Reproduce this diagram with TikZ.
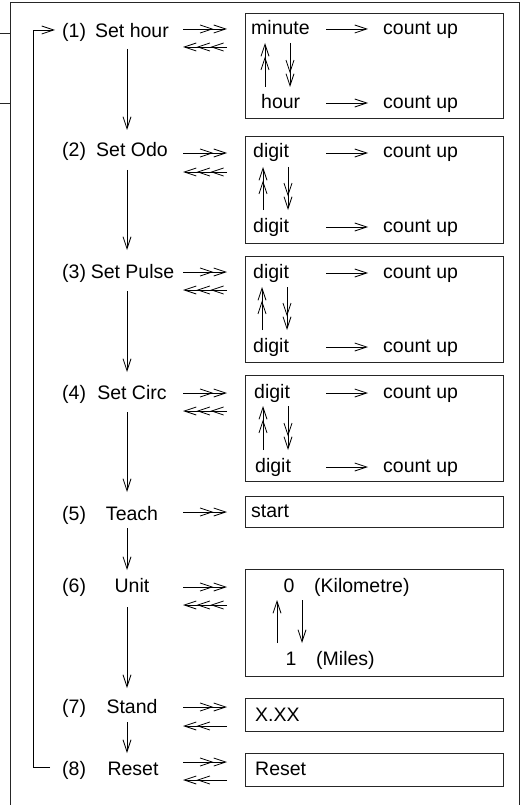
\documentclass[tikz,border=0pt]{standalone}
\usepackage{fontspec}
\setmainfont{Liberation Sans}
\usetikzlibrary{arrows.meta}
\tikzset{
  ln/.style={line width=0.8pt,black},
  one/.style={ln,-{Straight Barb[length=12pt,width=8pt]}},
  two/.style={ln,-{Straight Barb[length=12pt,width=8pt]Straight Barb[length=12pt,width=8pt]}},
  three/.style={ln,-{Straight Barb[length=12pt,width=8pt]Straight Barb[length=12pt,width=8pt]Straight Barb[length=12pt,width=8pt]}},
  txt/.style={font=\fontsize{19.5}{22}\selectfont,inner sep=0pt},
  lab/.style={txt,anchor=base west},
  nm/.style={txt,anchor=base},
  boxst/.style={draw=black!85,line width=0.9pt},
}
\begin{document}
\begin{tikzpicture}[x=1pt,y=-1pt]
\useasboundingbox (0,0) rectangle (520,805);
% outer frame and stubs
\draw[ln,black!85] (10,805) -- (10,2) -- (519,2) -- (519,805);
\coordinate (st1a) at (0,33); \coordinate (st1b) at (10,33);
\coordinate (st2a) at (0,103); \coordinate (st2b) at (10,103);
\draw[ln,black!85] (st1a) -- (st1b);
\draw[ln,black!85] (st2a) -- (st2b);

% right boxes
\draw[boxst] (245,13) rectangle (503,118);
\draw[boxst] (245,136) rectangle (503,243);
\draw[boxst] (245,256) rectangle (503,362);
\draw[boxst] (245,375) rectangle (503,481);
\draw[boxst] (245,496) rectangle (503,527);
\draw[boxst] (245,569) rectangle (503,676);
\draw[boxst] (245,698) rectangle (503,731);
\draw[boxst] (245,753) rectangle (503,786);

% left labels
\node[lab] (l1) at (62,38) {(1)};  \node[nm] (s1) at (132,38) {Set hour};
\node[lab] (l2) at (62,157) {(2)}; \node[nm] (s2) at (132,157) {Set Odo};
\node[lab] (l3) at (62,278) {(3)}; \node[nm] (s3) at (132.5,278) {Set Pulse};
\node[lab] (l4) at (62,399) {(4)}; \node[nm] (s4) at (132,399) {Set Circ};
\node[lab] (l5) at (62,520) {(5)}; \node[nm] (s5) at (132,520) {Teach};
\node[lab] (l6) at (62,592) {(6)}; \node[nm] (s6) at (132,592) {Unit};
\node[lab] (l7) at (62,713) {(7)}; \node[nm] (s7) at (132,713) {Stand};
\node[lab] (l8) at (62,775) {(8)}; \node[nm] (s8) at (133,775) {Reset};

% box texts
\node[lab] (b1a) at (251,35) {minute};  \node[lab] (b1b) at (383,35) {count up};
\node[lab] (b1c) at (261,109) {hour};   \node[lab] (b1d) at (383,109) {count up};
\node[lab] (b2a) at (253,158) {digit};  \node[lab] (b2b) at (383,158) {count up};
\node[lab] (b2c) at (253,232) {digit};  \node[lab] (b2d) at (383,232) {count up};
\node[lab] (b3a) at (253,278) {digit};  \node[lab] (b3b) at (383,278) {count up};
\node[lab] (b3c) at (253,352) {digit};  \node[lab] (b3d) at (383,352) {count up};
\node[lab] (b4a) at (254,398) {digit};  \node[lab] (b4b) at (383,398) {count up};
\node[lab] (b4c) at (255,472) {digit};  \node[lab] (b4d) at (383,472) {count up};
\node[lab] (b5a) at (251,517) {start};
\node[nm]  (b6a) at (289,592) {0};      \node[lab] (b6b) at (314,592) {(Kilometre)};
\node[nm]  (b6c) at (291,665) {1};      \node[lab] (b6d) at (316,665) {(Miles)};
\node[lab] (b7a) at (255,721) {X.XX};
\node[lab] (b8a) at (255,775) {Reset};

% arrows inside boxes (horizontal)
\foreach \n/\y in {1a/29,1b/103,2a/153,2b/227,3a/273,3b/347,4a/393,4b/467}{
  \coordinate (ia\n) at (326,\y); \coordinate (ib\n) at (368,\y);
  \draw[one] (ia\n) -- (ib\n);
}
% vertical arrows in boxes
\foreach \n/\xu/\xd/\ya/\yb in {1/265/290/43/87,2/263/288/167/210,3/262/287/287/330,4/263/288/406/450}{
  \coordinate (ua\n) at (\xu,\yb); \coordinate (ub\n) at (\xu,\ya);
  \coordinate (da\n) at (\xd,\ya); \coordinate (db\n) at (\xd,\yb);
  \draw[two] (ua\n) -- (ub\n);
  \draw[two] (da\n) -- (db\n);
}
\coordinate (u6a) at (277,643); \coordinate (u6b) at (277,600);
\coordinate (d6a) at (302,600); \coordinate (d6b) at (302,643);
\draw[one] (u6a) -- (u6b);
\draw[one] (d6a) -- (d6b);

% arrows between columns
\foreach \n/\y in {1/29,2/153,3/272,4/393,5/512,6/587,7/707,8/762}{
  \coordinate (ra\n) at (183,\y); \coordinate (rb\n) at (227,\y);
  \draw[two] (ra\n) -- (rb\n);
}
\foreach \n/\y in {1/47,2/172,3/290,4/411,6/605}{
  \coordinate (la\n) at (227,\y); \coordinate (lb\n) at (183,\y);
  \draw[three] (la\n) -- (lb\n);
}
\foreach \n/\y in {7/726,8/780}{
  \coordinate (la\n) at (227,\y); \coordinate (lb\n) at (183,\y);
  \draw[two] (la\n) -- (lb\n);
}

% down arrows
\foreach \n/\ya/\yb in {1/49/130,2/170/250,3/291/372,4/412/492,5/528/570,6/607/688,7/722/753}{
  \coordinate (va\n) at (127,\ya); \coordinate (vb\n) at (127,\yb);
  \draw[one] (va\n) -- (vb\n);
}

% loop back
\coordinate (lpa) at (50,767); \coordinate (lpb) at (33,767);
\coordinate (lpc) at (33,30);  \coordinate (lpd) at (55,30);
\draw[one] (lpa) -- (lpb) -- (lpc) -- (lpd);
\end{tikzpicture}
\end{document}
